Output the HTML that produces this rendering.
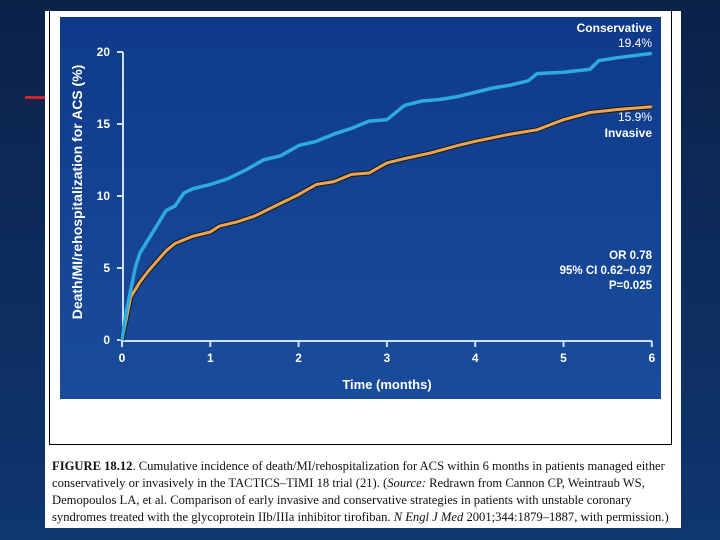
<!DOCTYPE html>
<html><head><meta charset="utf-8"><style>
body{margin:0;width:720px;height:540px;overflow:hidden;background:linear-gradient(180deg,#0b2249,#0f3670);font-family:"Liberation Sans",sans-serif}
#panel{position:absolute;left:45px;top:11px;width:636px;height:517px;background:#fff}
#frame{position:absolute;left:49px;top:11px;width:623px;height:434px;border-left:1px solid #000;border-right:1px solid #000;border-bottom:1px solid #000;box-sizing:border-box}
#cap{position:absolute;left:52px;top:458px;width:630px;font-family:"Liberation Serif",serif;font-size:12.6px;line-height:17px;color:#111;white-space:nowrap}
</style></head><body>
<div id="panel"></div>
<div id="frame"></div>
<div style="position:absolute;left:25px;top:96px;width:20px;height:3px;background:#d0202a"></div>
<svg id="chart" width="720" height="540" style="position:absolute;left:0;top:0">
<defs><linearGradient id="bg" x1="0" y1="0" x2="0" y2="1"><stop offset="0" stop-color="#0f3a8a"/><stop offset="1" stop-color="#1a4c9c"/></linearGradient></defs>
<rect x="60" y="17" width="601" height="382" fill="url(#bg)"/>
<g id="g"></g>
<text x="652" y="32" fill="#fff" font-size="12" font-weight="bold" text-anchor="end">Conservative</text>
<text x="652" y="47" fill="#fff" font-size="12" text-anchor="end">19.4%</text>
<text x="652" y="121" fill="#fff" font-size="12" text-anchor="end">15.9%</text>
<text x="652" y="137" fill="#fff" font-size="12" font-weight="bold" text-anchor="end">Invasive</text>
<g fill="#fff" font-size="11.5" font-weight="bold" text-anchor="end">
<text x="652" y="259">OR 0.78</text><text x="652" y="274">95% CI 0.62−0.97</text><text x="652" y="289">P=0.025</text></g>
<text x="387" y="389" fill="#fff" font-size="13" font-weight="bold" text-anchor="middle">Time (months)</text>
<text transform="translate(82,192) rotate(-90)" fill="#fff" font-size="14" font-weight="bold" text-anchor="middle">Death/MI/rehospitalization for ACS (%)</text>
</svg>
<div id="cap"><b>FIGURE 18.12</b>. Cumulative incidence of death/MI/rehospitalization for ACS within 6 months in patients managed either<br>conservatively or invasively in the TACTICS–TIMI 18 trial (21). (<i>Source:</i> Redrawn from Cannon CP, Weintraub WS,<br>Demopoulos LA, et al. Comparison of early invasive and conservative strategies in patients with unstable coronary<br>syndromes treated with the glycoprotein IIb/IIIa inhibitor tirofiban. <i>N Engl J Med</i> 2001;344:1879–1887, with permission.)</div>
<script>
const xTicks=[0,1,2,3,4,5,6];
const yTicks=[0,5,10,15,20];
const consT=[0,0.05,0.1,0.15,0.2,0.3,0.4,0.5,0.6,0.7,0.8,1,1.2,1.4,1.6,1.8,2,2.2,2.4,2.6,2.8,3,3.2,3.4,3.6,3.8,4,4.2,4.4,4.6,4.7,5,5.3,5.4,5.6,6];
const consV=[0,2,3.5,5,6,7,8,9,9.3,10.2,10.5,10.8,11.2,11.8,12.5,12.8,13.5,13.8,14.3,14.7,15.2,15.3,16.3,16.6,16.7,16.9,17.2,17.5,17.7,18,18.5,18.6,18.8,19.4,19.6,19.9];
const invT=[0,0.05,0.1,0.2,0.3,0.4,0.5,0.6,0.8,1,1.1,1.3,1.5,1.7,2,2.2,2.4,2.6,2.8,3,3.2,3.5,3.8,4,4.4,4.7,5,5.3,5.6,6];
const invV=[0,1.5,3,4,4.8,5.5,6.2,6.7,7.2,7.5,7.9,8.2,8.6,9.2,10.1,10.8,11,11.5,11.6,12.3,12.6,13,13.5,13.8,14.3,14.6,15.3,15.8,16,16.2];
const X=t=>122+t*88.3, Y=v=>340-v*14.4;
const g=document.getElementById('g'),NS='http://www.w3.org/2000/svg';
function mk(tag,a){const e=document.createElementNS(NS,tag);for(const k in a)e.setAttribute(k,a[k]);g.appendChild(e);return e;}
let e=mk('line',{x1:123,y1:Y(0),x2:123,y2:Y(20),stroke:'#cfe0f0','stroke-width':2});


e=mk('line',{x1:X(0),y1:341,x2:X(6),y2:341,stroke:'#cfe0f0','stroke-width':2});


yTicks.forEach(v=>{mk('line',{x1:117,y1:Y(v),x2:123,y2:Y(v),stroke:'#cfe0f0','stroke-width':2});
 e=mk('text',{x:110,y:Y(v)+4,fill:'#fff','font-size':12,'font-weight':'bold','text-anchor':'end'});e.textContent=v;
 
 });
xTicks.forEach(t=>{mk('line',{x1:X(t),y1:341,x2:X(t),y2:347,stroke:'#cfe0f0','stroke-width':2});
 e=mk('text',{x:X(t),y:362,fill:'#fff','font-size':12,'font-weight':'bold','text-anchor':'middle'});e.textContent=t;
 
 });
const pts=(T,V)=>T.map((t,i)=>X(t).toFixed(1)+','+Y(V[i]).toFixed(1)).join(' ');
mk('polyline',{points:pts(invT,invV),fill:'none',stroke:'#1a1a10','stroke-width':5,'stroke-linejoin':'round'});
e=mk('polyline',{points:pts(invT,invV),fill:'none',stroke:'#e8a55a','stroke-width':3,'stroke-linejoin':'round'});


e=mk('polyline',{points:pts(consT,consV),fill:'none',stroke:'#2eaae2','stroke-width':3.5,'stroke-linejoin':'round'});


</script>
</body></html>
